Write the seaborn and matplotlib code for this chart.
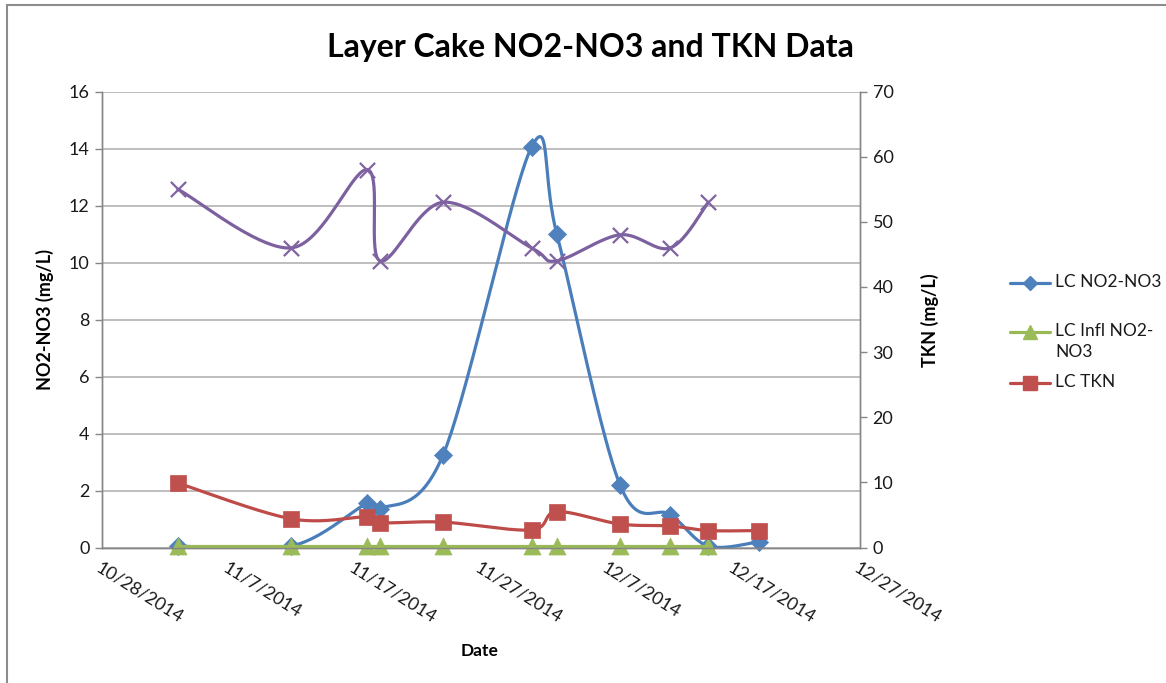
import numpy as np
import pandas as pd
import matplotlib
matplotlib.use("Agg")
import matplotlib.pyplot as plt
import matplotlib.dates as mdates
import seaborn as sns
from matplotlib.lines import Line2D
from matplotlib.patches import Rectangle

# Sample dates and values
dates = ["2014-11-03", "2014-11-12", "2014-11-18", "2014-11-19", "2014-11-24",
         "2014-12-01", "2014-12-03", "2014-12-08", "2014-12-12", "2014-12-15",
         "2014-12-19"]
lc_no2_no3 = [0.05, 0.05, 1.55, 1.35, 3.25, 14.05, 11.0, 2.2, 1.15, 0.05, 0.2]
lc_infl_no2_no3 = [0.05, 0.05, 0.05, 0.05, 0.05, 0.05, 0.05, 0.05, 0.05, 0.05]
lc_tkn = [9.9, 4.4, 4.7, 3.8, 3.9, 2.7, 5.5, 3.6, 3.3, 2.6, 2.6]
lc_infl_tkn = [55, 46, 58, 44, 53, 46, 44, 48, 46, 53]

x_start, x_end = "2014-10-28", "2014-12-27"
left_ticks = [0, 2, 4, 6, 8, 10, 12, 14, 16]
right_ticks = [0, 10, 20, 30, 40, 50, 60, 70]

BLUE, BLUE_M = "#4A7EBB", "#4F81BD"
GREEN, GREEN_M = "#98B954", "#9BBB59"
RED, RED_M = "#BE4B48", "#C0504D"
PURPLE, PURPLE_M = "#7D60A0", "#8064A2"
GRID = "#b3b3b3"
AXC = "#868686"
TXT = "#1a1a1a"


def smooth(x, y, n=40):
    # Excel style smoothed line: bezier segments with catmull-rom handles
    pts = np.column_stack([x, y]).astype(float)
    P = np.vstack([pts[0], pts, pts[-1]])
    t = np.linspace(0, 1, n)[:, None]
    out = []
    for i in range(1, len(P) - 2):
        p0, p1, p2, p3 = P[i - 1], P[i], P[i + 1], P[i + 2]
        c1 = p1 + (p2 - p0) / 6
        c2 = p2 - (p3 - p1) / 6
        out.append((1 - t) ** 3 * p1 + 3 * (1 - t) ** 2 * t * c1
                   + 3 * (1 - t) * t ** 2 * c2 + t ** 3 * p2)
    return np.vstack(out)


sns.set_style("white")
plt.rcParams["font.family"] = ["Lato", "DejaVu Sans"]

W, H = 1166, 683
fig = plt.figure(figsize=(W / 100, H / 100), dpi=100)
fig.subplots_adjust(left=102 / W, right=860 / W, top=1 - 91.5 / H, bottom=1 - 547.5 / H)
ax = fig.add_subplot(111)
ax2 = ax.twinx()

xd = mdates.date2num(pd.to_datetime(dates))

# axis, values, line colour, marker colour, marker, size, zorder, clip line
series = [
    (ax, lc_no2_no3, BLUE, BLUE_M, "D", 85, 2, True),
    (ax, lc_infl_no2_no3, GREEN, GREEN_M, "^", 150, 3, False),
    (ax2, lc_tkn, RED, RED_M, "s", 125, 4, True),
    (ax2, lc_infl_tkn, PURPLE, PURPLE_M, "x", 120, 5, True),
]
for a, vals, lc, mc, mk, size, z, clip in series:
    xs = xd[:len(vals)]
    curve = smooth(xs, vals)
    n_lines = len(a.lines)
    sns.lineplot(x=curve[:, 0], y=curve[:, 1], ax=a, sort=False, estimator=None,
                 color=lc, linewidth=2.3, zorder=z)
    for ln in a.lines[n_lines:]:
        ln.set_clip_on(clip)
    n_coll = len(a.collections)
    if mk == "x":
        sns.scatterplot(x=xs, y=vals, ax=a, marker=mk, s=size, color=mc,
                        linewidth=1.6, zorder=z + 0.5)
    else:
        sns.scatterplot(x=xs, y=vals, ax=a, marker=mk, s=size, color=mc,
                        edgecolor=mc, linewidth=0.5, zorder=z + 0.5)
    for c in a.collections[n_coll:]:
        c.set_clip_on(False)

x0 = mdates.date2num(pd.Timestamp(x_start))
x1 = mdates.date2num(pd.Timestamp(x_end))
ax.set_xlim(x0, x1)
ax.set_xticks(np.arange(x0, x1 + 1, 10))


def fmt(v, pos):
    d = mdates.num2date(v)
    return f"{d.month}/{d.day}/{d.year}"


ax.xaxis.set_major_formatter(plt.FuncFormatter(fmt))
ax.set_ylim(0, 16)
ax.set_yticks(left_ticks)
ax2.set_ylim(0, 70)
ax2.set_yticks(right_ticks)
ax.yaxis.grid(True, color=GRID, linewidth=1.2)
ax.set_axisbelow(True)

for a in (ax, ax2):
    a.set_xlabel("")
    a.set_ylabel("")
    a.spines["top"].set_visible(False)
    for s in ("left", "right", "bottom"):
        a.spines[s].set_color(AXC)
        a.spines[s].set_linewidth(1.0)
    a.tick_params(colors=AXC, labelcolor=TXT, labelsize=13, length=5, width=1, pad=4)

for lab in ax.get_xticklabels():
    lab.set_rotation(-32)
    lab.set_ha("left")
    lab.set_va("top")
    lab.set_rotation_mode("anchor")

# Titles and axis labels
fig.text(590 / W, 1 - 47 / H, "Layer Cake NO2-NO3 and TKN Data", ha="center", va="center",
         fontsize=23, fontweight="bold", color="black")
fig.text(480 / W, 1 - 651 / H, "Date", ha="center", va="center", fontsize=12.5,
         fontweight="bold", color="black")
fig.text(45 / W, 1 - 320 / H, "NO2-NO3 (mg/L)", ha="center", va="center", rotation=90,
         fontsize=13, fontweight="bold", color="black")
fig.text(930 / W, 1 - 320 / H, "TKN (mg/L)", ha="center", va="center", rotation=90,
         fontsize=13, fontweight="bold", color="black")

# Legend (Excel style, handle aligned with first text line)
legend_items = [
    ("LC NO2-NO3", BLUE, BLUE_M, "D", 7, 283),
    ("LC Infl NO2-\nNO3", GREEN, GREEN_M, "^", 10, 332),
    ("LC TKN", RED, RED_M, "s", 10, 383),
]
for label, lc, mc, mk, ms, yp in legend_items:
    yy = 1 - yp / H
    fig.add_artist(Line2D([1010 / W, 1050 / W], [yy, yy], color=lc, linewidth=2.3,
                          transform=fig.transFigure))
    fig.add_artist(Line2D([1030 / W], [yy], marker=mk, markersize=ms, color=mc,
                          transform=fig.transFigure))
    fig.text(1055 / W, yy + 0.013, label, ha="left", va="top", fontsize=12.5,
             linespacing=1.4, color=TXT)

# Chart area border
fig.add_artist(Rectangle((7 / W, -0.1), 2, 1.1 - 5 / H, transform=fig.transFigure,
                         fill=False, edgecolor="#8c8c8c", linewidth=1.5))

fig.savefig("out.png", dpi=100)
